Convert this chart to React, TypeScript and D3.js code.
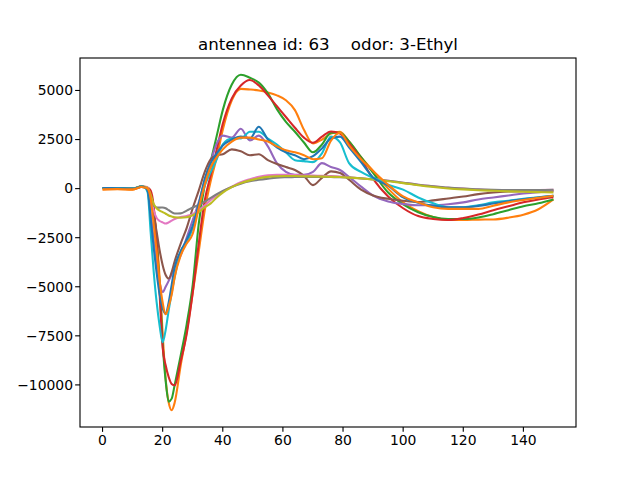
import React from 'react'
import * as d3 from 'd3'

// sample positions (frame index) shared by all traces
const frames = [
    0, 5, 10, 13, 14, 15, 16, 17, 18, 19, 20, 21, 22, 23, 24, 26, 28, 30, 32, 34, 36, 38, 40,
    43, 46, 49, 52, 55, 58, 61, 64, 67, 70, 73, 76, 79, 82, 86, 90, 95, 100, 105, 110, 115,
    120, 125, 130, 135, 140, 145, 150,
]

const orangeA = [
    -50, -30, -60, 80, 60, -50, -300, -1000, -2500, -4600, -7400, -9700, -10900, -11290, -10900,
    -9000, -7300, -5300, -3200, -1100, 400, 1600, 3000, 4500, 5080, 5050, 5000, 4900, 4750, 4500,
    4000, 3000, 2300, 2500, 2800, 2900, 2400, 1600, 900, 0, -700, -1150, -1450, -1600, -1600,
    -1580, -1570, -1480, -1330, -1050, -550,
]
const green = [
    30, 20, 0, 100, 80, 50, -200, -1100, -2700, -5000, -7900, -9800, -10850, -10700, -10000,
    -8500, -6900, -4900, -1800, 200, 1400, 2700, 4000, 5300, 5800, 5650, 5400, 4850, 4050, 3400,
    2900, 2350, 1850, 2250, 2850, 2850, 2400, 1600, 800, -200, -800, -1200, -1450, -1550, -1550,
    -1470, -1300, -1100, -900, -750, -550,
]
const red = [
    30, 20, 0, 100, 80, 50, -100, -900, -2800, -5400, -8100, -9000, -9600, -9950, -10020, -8800,
    -7400, -5300, -2800, -600, 700, 2000, 3300, 4600, 5250, 5530, 5250, 4750, 4200, 3650, 3100,
    2600, 2340, 2650, 2910, 2800, 2300, 1500, 500, -400, -1000, -1400, -1550, -1600, -1500, -1320,
    -1100, -900, -700, -550, -440,
]
const purple = [
    30, 20, 0, 100, 80, 0, -1200, -2600, -3900, -4800, -5270, -5000, -4700, -4350, -4000, -3400,
    -2500, -1600, -700, 400, 1400, 2300, 2700, 2600, 3050, 2450, 2700, 2150, 1300, 850, 700, 700,
    850, 1300, 1100, 950, 600, 100, -350, -650, -780, -850, -850, -800, -700, -550, -450, -350,
    -250, -180, -130,
]
const brown = [
    30, 20, 0, 100, 80, 20, -500, -1300, -2200, -3150, -3900, -4400, -4580, -4250, -3700, -2800,
    -2000, -1000, -100, 850, 1500, 1700, 1750, 2000, 1900, 1700, 1750, 1450, 1250, 1100, 950, 650,
    180, 550, 880, 800, 450, -50, -350, -520, -620, -680, -600, -500, -400, -280, -200, -150, -120,
    -100, -100,
]
const pink = [
    30, 20, 0, 100, 100, 50, -400, -1100, -1500, -1650, -1720, -1780, -1720, -1630, -1550, -1450,
    -1390, -1300, -1100, -850, -580, -350, -150, 100, 330, 480, 600, 680, 700, 700, 690, 670, 660,
    650, 640, 620, 580, 520, 470, 400, 300, 200, 120, 40, 0, -50, -70, -80, -80, -70, -60,
]
const gray = [
    30, 20, 0, 120, 80, -50, -400, -850, -960, -970, -960, -1000, -1100, -1200, -1270, -1260,
    -1120, -960, -830, -660, -470, -280, -120, 80, 250, 370, 450, 510, 560, 580, 590, 600, 600, 600,
    590, 580, 560, 530, 480, 400, 300, 200, 120, 50, 0, -40, -60, -70, -70, -70, -60,
]
const olive = [
    30, 20, 0, 120, 90, 20, -300, -780, -1000, -1120, -1200, -1280, -1370, -1420, -1460, -1480,
    -1460, -1360, -1200, -950, -750, -450, -200, 80, 280, 420, 530, 600, 630, 640, 640, 630, 620,
    610, 600, 590, 560, 520, 460, 380, 280, 170, 80, 10, -40, -80, -110, -140, -160, -180, -190,
]
const cyan = [
    30, 20, 0, 100, 60, -200, -2200, -4200, -5800, -7000, -7830, -7200, -6200, -5300, -4500, -3200,
    -2750, -2000, -900, 150, 850, 1500, 2250, 2550, 2550, 2900, 2900, 2550, 2250, 1850, 1450, 1400,
    1350, 1800, 2650, 2350, 1300, 850, 550, 200, -50, -450, -750, -950, -950, -850, -700, -620,
    -520, -440, -360,
]
const blue = [
    30, 20, 0, 100, 60, -100, -1500, -3000, -4300, -5400, -6100, -6370, -5800, -4900, -4000, -3200,
    -2600, -1900, -800, 500, 1300, 1800, 2200, 2500, 2650, 2550, 3150, 2500, 2100, 1850, 1700, 1500,
    1650, 2050, 2550, 2650, 2100, 1350, 570, 150, -450, -720, -880, -950, -950, -880, -760, -640,
    -540, -450, -360,
]
const orangeB = [
    -30, -20, -40, 80, 60, 0, -500, -1800, -3200, -4700, -5800, -6400, -6000, -5400, -4500, -3400,
    -2800, -2300, -1000, 200, 1100, 1600, 2000, 2400, 2600, 2600, 2500, 2400, 2150, 1950, 1850,
    1700, 1500, 1550, 2450, 2850, 2200, 1500, 900, 200, -400, -700, -950, -1030, -1030, -1030, -870,
    -700, -580, -470, -360,
]

// draw order, bottom to top
const traces = [orangeA, green, red, purple, brown, pink, gray, olive, cyan, blue, orangeB]
const traceColors = [
    '#ff7f0e', '#2ca02c', '#d62728', '#9467bd', '#8c564b', '#e377c2',
    '#7f7f7f', '#bcbd22', '#17becf', '#1f77b4', '#ff7f0e',
]

const xTicks = [0, 20, 40, 60, 80, 100, 120, 140]
const yTicks = [-10000, -7500, -5000, -2500, 0, 2500, 5000]
const title = 'antennea id: 63    odor: 3-Ethyl'

const W = 640
const H = 480
const margin = { top: 58, right: 64, bottom: 53, left: 80 }
const font = 'DejaVu Sans, sans-serif'

const App: React.FC = () => {
    const x0 = d3.min(frames) as number
    const x1 = d3.max(frames) as number
    const padX = (x1 - x0) * 0.05
    const x = d3
        .scaleLinear()
        .domain([x0 - padX, x1 + padX])
        .range([margin.left, W - margin.right])

    const all = traces.flat()
    const [lo, hi] = d3.extent(all) as [number, number]
    const padY = (hi - lo) * 0.05
    const y = d3
        .scaleLinear()
        .domain([lo - padY, hi + padY])
        .range([H - margin.bottom, margin.top])

    const line = d3
        .line<number>()
        .x((_, i) => x(frames[i]))
        .y((d) => y(d))
        .curve(d3.curveMonotoneX)

    const fmt = (v: number) => (v < 0 ? '\u2212' + Math.abs(v) : String(v))
    const plotW = W - margin.left - margin.right
    const plotH = H - margin.top - margin.bottom

    return (
        <div style={{ position: 'absolute', left: 0, top: 0 }}>
            <svg width={W} height={H} style={{ display: 'block', background: '#fff' }}>
                <rect x={0} y={0} width={W} height={H} fill="#fff" />
                {traces.map((vals, k) => (
                    <path
                        key={k}
                        d={line(vals) ?? ''}
                        fill="none"
                        stroke={traceColors[k]}
                        strokeWidth={2.08}
                        strokeLinejoin="round"
                    />
                ))}
                <rect
                    x={margin.left}
                    y={margin.top}
                    width={plotW}
                    height={plotH}
                    fill="none"
                    stroke="#000"
                    strokeWidth={1.11}
                />
                {xTicks.map((t) => (
                    <g key={t} transform={`translate(${x(t)},${H - margin.bottom})`}>
                        <line y2={4.86} stroke="#000" strokeWidth={1.11} />
                        <text
                            y={7}
                            dy="0.76em"
                            textAnchor="middle"
                            fontFamily={font}
                            fontSize={13.9}
                            fill="#000"
                        >
                            {fmt(t)}
                        </text>
                    </g>
                ))}
                {yTicks.map((t) => (
                    <g key={t} transform={`translate(${margin.left},${y(t)})`}>
                        <line x2={-4.86} stroke="#000" strokeWidth={1.11} />
                        <text
                            x={-7}
                            dy="0.35em"
                            textAnchor="end"
                            fontFamily={font}
                            fontSize={13.9}
                            fill="#000"
                        >
                            {fmt(t)}
                        </text>
                    </g>
                ))}
                <text
                    x={margin.left + plotW / 2}
                    y={margin.top - 8.3}
                    textAnchor="middle"
                    fontFamily={font}
                    fontSize={16.67}
                    fill="#000"
                    style={{ whiteSpace: 'pre' }}
                >
                    {title}
                </text>
            </svg>
        </div>
    )
}

export default App
